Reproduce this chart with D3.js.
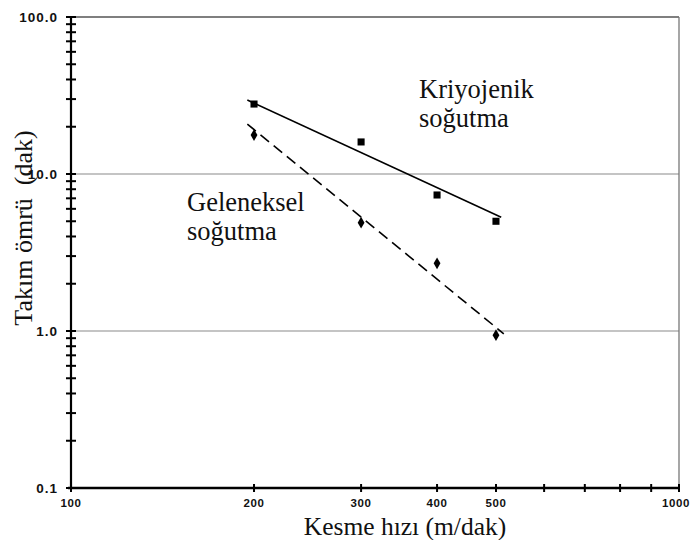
<!DOCTYPE html>
<html>
<head>
<meta charset="utf-8">
<script src="https://cdn.jsdelivr.net/npm/d3@7"></script>
<style>
  html, body { margin: 0; padding: 0; background: #fff; }
  svg { display: block; }
  .serif { font-family: "Liberation Serif", "Times New Roman", serif; }
  .sans { font-family: "Liberation Sans", Arial, sans-serif; font-weight: bold; }
</style>
</head>
<body>
<svg id="chart" width="691" height="540"></svg>
<script>
// Cutting speed (m/dak) and measured tool life (dak)
const speeds = [200, 300, 400, 500];
const cryoLife = [27.9, 16.0, 7.35, 5.0];   // Kriyojenik soğutma
const convLife = [17.7, 4.9, 2.7, 0.94];    // Geleneksel soğutma

// Fitted trend lines (end points)
const cryoFitSpeed = [195, 510];
const cryoFitLife = [29.6, 5.3];
const convFitSpeed = [195, 515];
const convFitLife = [20.8, 0.96];

// Axis ticks
const xTickValues = [100, 200, 300, 400, 500, 600, 700, 800, 900, 1000];
const xTickLabels = { 100: "100", 200: "200", 300: "300", 400: "400", 500: "500", 1000: "1000" };
const yMajor = [0.1, 1, 10, 100];
const yMajorLabels = ["0.1", "1.0", "10.0", "100.0"];

const svg = d3.select("#chart");

const x = d3.scaleLog().domain([100, 1000]).range([71, 679]);
const y = d3.scaleLog().domain([0.1, 100]).range([488, 17]);

// Minor y ticks: 2..9 in every decade
const yMinor = [];
[0.1, 1, 10].forEach(d => { for (let k = 2; k <= 9; k++) yMinor.push(+(d * k).toPrecision(3)); });

// Gridlines and frame (top and right edges)
svg.append("g")
  .selectAll("line")
  .data([1, 10])
  .join("line")
  .attr("x1", x(100)).attr("x2", x(1000))
  .attr("y1", d => y(d)).attr("y2", d => y(d))
  .attr("stroke", "#8a8a8a").attr("stroke-width", 1.2);

svg.append("line")
  .attr("x1", x(100)).attr("x2", x(1000))
  .attr("y1", y(100)).attr("y2", y(100))
  .attr("stroke", "#555").attr("stroke-width", 1.3);

svg.append("line")
  .attr("x1", x(1000)).attr("x2", x(1000))
  .attr("y1", y(100)).attr("y2", y(0.1))
  .attr("stroke", "#777").attr("stroke-width", 1.3);

// Y axis (ticks crossing the axis line)
const yAxisG = svg.append("g").attr("transform", `translate(${x(100)},0)`);
yAxisG.append("line")
  .attr("x1", 0).attr("x2", 0)
  .attr("y1", y(100)).attr("y2", y(0.1))
  .attr("stroke", "#000").attr("stroke-width", 2.2);
yAxisG.selectAll("line.tick")
  .data(yMajor.concat(yMinor))
  .join("line")
  .attr("class", "tick")
  .attr("x1", -5).attr("x2", 5)
  .attr("y1", d => y(d)).attr("y2", d => y(d))
  .attr("stroke", "#000").attr("stroke-width", 2);
yAxisG.selectAll("text")
  .data(yMajor)
  .join("text")
  .attr("class", "sans")
  .attr("x", -13)
  .attr("y", d => y(d))
  .attr("dy", "0.36em")
  .attr("text-anchor", "end")
  .attr("font-size", 13.5)
  .attr("letter-spacing", 1)
  .attr("fill", "#111")
  .text((d, i) => yMajorLabels[i]);

// X axis
const xAxisG = svg.append("g").attr("transform", `translate(0,${y(0.1)})`);
xAxisG.append("line")
  .attr("x1", x(100) - 3).attr("x2", x(1000))
  .attr("y1", 0).attr("y2", 0)
  .attr("stroke", "#000").attr("stroke-width", 2.6);
xAxisG.selectAll("line.tick")
  .data(xTickValues)
  .join("line")
  .attr("class", "tick")
  .attr("x1", d => x(d)).attr("x2", d => x(d))
  .attr("y1", -4).attr("y2", 4)
  .attr("stroke", "#000").attr("stroke-width", 2);
xAxisG.selectAll("text")
  .data(xTickValues.filter(d => xTickLabels[d]))
  .join("text")
  .attr("class", "sans")
  .attr("x", d => d === 1000 ? 690 : x(d))
  .attr("y", 19)
  .attr("text-anchor", d => d === 1000 ? "end" : "middle")
  .attr("font-size", 11.5)
  .attr("letter-spacing", 0.6)
  .attr("fill", "#111")
  .text(d => xTickLabels[d]);

// Trend lines
const line = d3.line().x(d => x(d[0])).y(d => y(d[1]));
svg.append("path")
  .datum(d3.zip(cryoFitSpeed, cryoFitLife))
  .attr("d", line)
  .attr("fill", "none").attr("stroke", "#000").attr("stroke-width", 1.6);
svg.append("path")
  .datum(d3.zip(convFitSpeed, convFitLife))
  .attr("d", line)
  .attr("fill", "none").attr("stroke", "#000").attr("stroke-width", 1.6)
  .attr("stroke-dasharray", "11,6");

// Data markers
svg.append("g")
  .selectAll("path")
  .data(d3.zip(speeds, cryoLife))
  .join("path")
  .attr("transform", d => `translate(${x(d[0])},${y(d[1])})`)
  .attr("d", d3.symbol(d3.symbolSquare, 50))
  .attr("fill", "#000");
svg.append("g")
  .selectAll("path")
  .data(d3.zip(speeds, convLife))
  .join("path")
  .attr("transform", d => `translate(${x(d[0])},${y(d[1])})`)
  .attr("d", d3.symbol(d3.symbolDiamond, 40))
  .attr("fill", "#000");

// Series annotations
function twoLineLabel(lines, left, baseline) {
  svg.append("text")
    .attr("class", "serif")
    .attr("x", left).attr("y", baseline)
    .attr("font-size", 26.5).attr("fill", "#111")
    .selectAll("tspan")
    .data(lines)
    .join("tspan")
    .attr("x", left)
    .attr("dy", (d, i) => i === 0 ? 0 : 29)
    .text(d => d);
}
twoLineLabel(["Kriyojenik", "soğutma"], 419, 98);
twoLineLabel(["Geleneksel", "soğutma"], 187, 211);

// Axis titles
svg.append("text")
  .attr("class", "serif")
  .attr("x", 405).attr("y", 535)
  .attr("text-anchor", "middle")
  .attr("font-size", 25.5).attr("fill", "#111")
  .text("Kesme hızı (m/dak)");

svg.append("text")
  .attr("class", "serif")
  .attr("transform", "translate(32,228) rotate(-90)")
  .attr("text-anchor", "middle")
  .attr("font-size", 26).attr("fill", "#111")
  .style("white-space", "pre")
  .text("Takım ömrü  (dak)");
</script>
</body>
</html>
